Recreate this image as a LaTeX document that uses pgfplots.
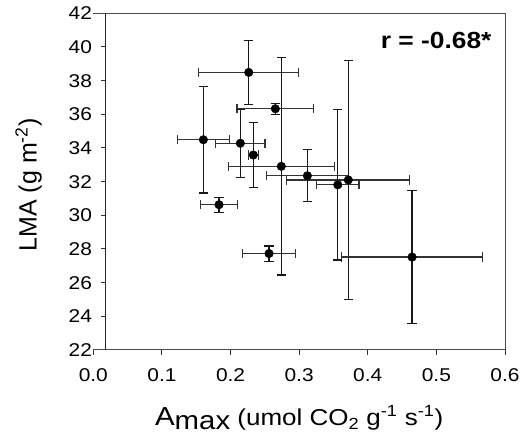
\documentclass[border=0pt]{standalone}
\usepackage{pgfplots}
\pgfplotsset{compat=1.18}
\usepackage{pgfplotstable}
\usepackage{fontspec}
\setmainfont{Liberation Sans}[FakeStretch=1.13]
\newfontfamily\ylfont{Liberation Sans}

\pgfplotstableread{
x y ex ey
0.2265 38.49 0.0730 1.90
0.2653 36.33 0.0560 0.33
0.1604 34.49 0.0380 3.17
0.2143 34.28 0.0360 2.02
0.2332 33.58 0.0075 1.94
0.2740 32.91 0.0770 6.45
0.3120 32.35 0.0600 1.55
0.3563 31.81 0.0310 4.47
0.3717 32.10 0.0897 7.11
0.4646 27.52 0.1023 3.94
0.1832 30.63 0.0265 0.45
0.2561 27.73 0.0384 0.45
}\data

\begin{document}
\begin{tikzpicture}
\begin{axis}[
  at={(93.3pt,91pt)}, anchor=south west,
  scale only axis, width=411.7pt, height=336.7pt,
  xmin=0, xmax=0.6, ymin=22, ymax=42,
  xtick={0,0.1,0.2,0.3,0.4,0.5,0.6},
  ytick={22,24,26,28,30,32,34,36,38,40,42},
  axis line style={draw=none},
  tick align=outside, tick pos=left,
  major tick length=4.5pt,
  every tick/.style={black!80, line width=1pt},
  ytick style={xshift=12.4pt},
  /pgf/number format/assume math mode=true,
  ticklabel style={font=\fontsize{18.5}{22}\selectfont, text=black},
  xticklabel style={/pgf/number format/.cd, fixed, fixed zerofill, precision=1, /tikz/.cd, yshift=-10.3pt},
  yticklabel style={xshift=6.7pt},
  clip=false,
]
% error bars
\addplot[black!80, mark=none, only marks, forget plot,
  error bars/.cd, x dir=both, x explicit,
  error bar style={line width=1.2pt, draw=black!80},
  error mark options={line width=1.2pt, draw=black!80, mark size=4.6pt, rotate=90}]
  table[x=x, y=y, x error=ex] {\data};
\addplot[black!90, mark=none, only marks, forget plot,
  error bars/.cd, y dir=both, y explicit,
  error bar style={line width=1.2pt, draw=black!90},
  error mark options={line width=1.2pt, draw=black!90, mark size=4.6pt, rotate=90}]
  table[x=x, y=y, y error=ey] {\data};
% points
\addplot[only marks, mark=*, mark size=4.3pt, black] table[x=x, y=y] {\data};
% frame
\draw[black!70, line width=1pt] (axis cs:0,22) -- (axis cs:0.6,22) -- (axis cs:0.6,42) -- (axis cs:0,42);
\draw[black!85, line width=1pt] (axis cs:0.018,22) -- (axis cs:0.018,42);
% labels
\node[anchor=base east, font=\bfseries\fontsize{23.3}{28}\selectfont] at (rel axis cs:0.9757,0.896) {r = -0.68*};
\node[anchor=base, font=\fontsize{23}{28}\selectfont] at (rel axis cs:0.5,-0.2242)
  {{\fontsize{26}{30}\selectfont A\raisebox{-4.5pt}{max}} (umol CO\textsubscript{2} g\textsuperscript{-1} s\textsuperscript{-1})};
\node[anchor=base, rotate=90, font=\ylfont\fontsize{25}{30}\selectfont] at (rel axis cs:-0.1375,0.49)
  {LMA (g m\textsuperscript{-2})};
\end{axis}
\pgfresetboundingbox
\useasboundingbox (0,0) rectangle (524pt,441pt);
\end{tikzpicture}
\end{document}
